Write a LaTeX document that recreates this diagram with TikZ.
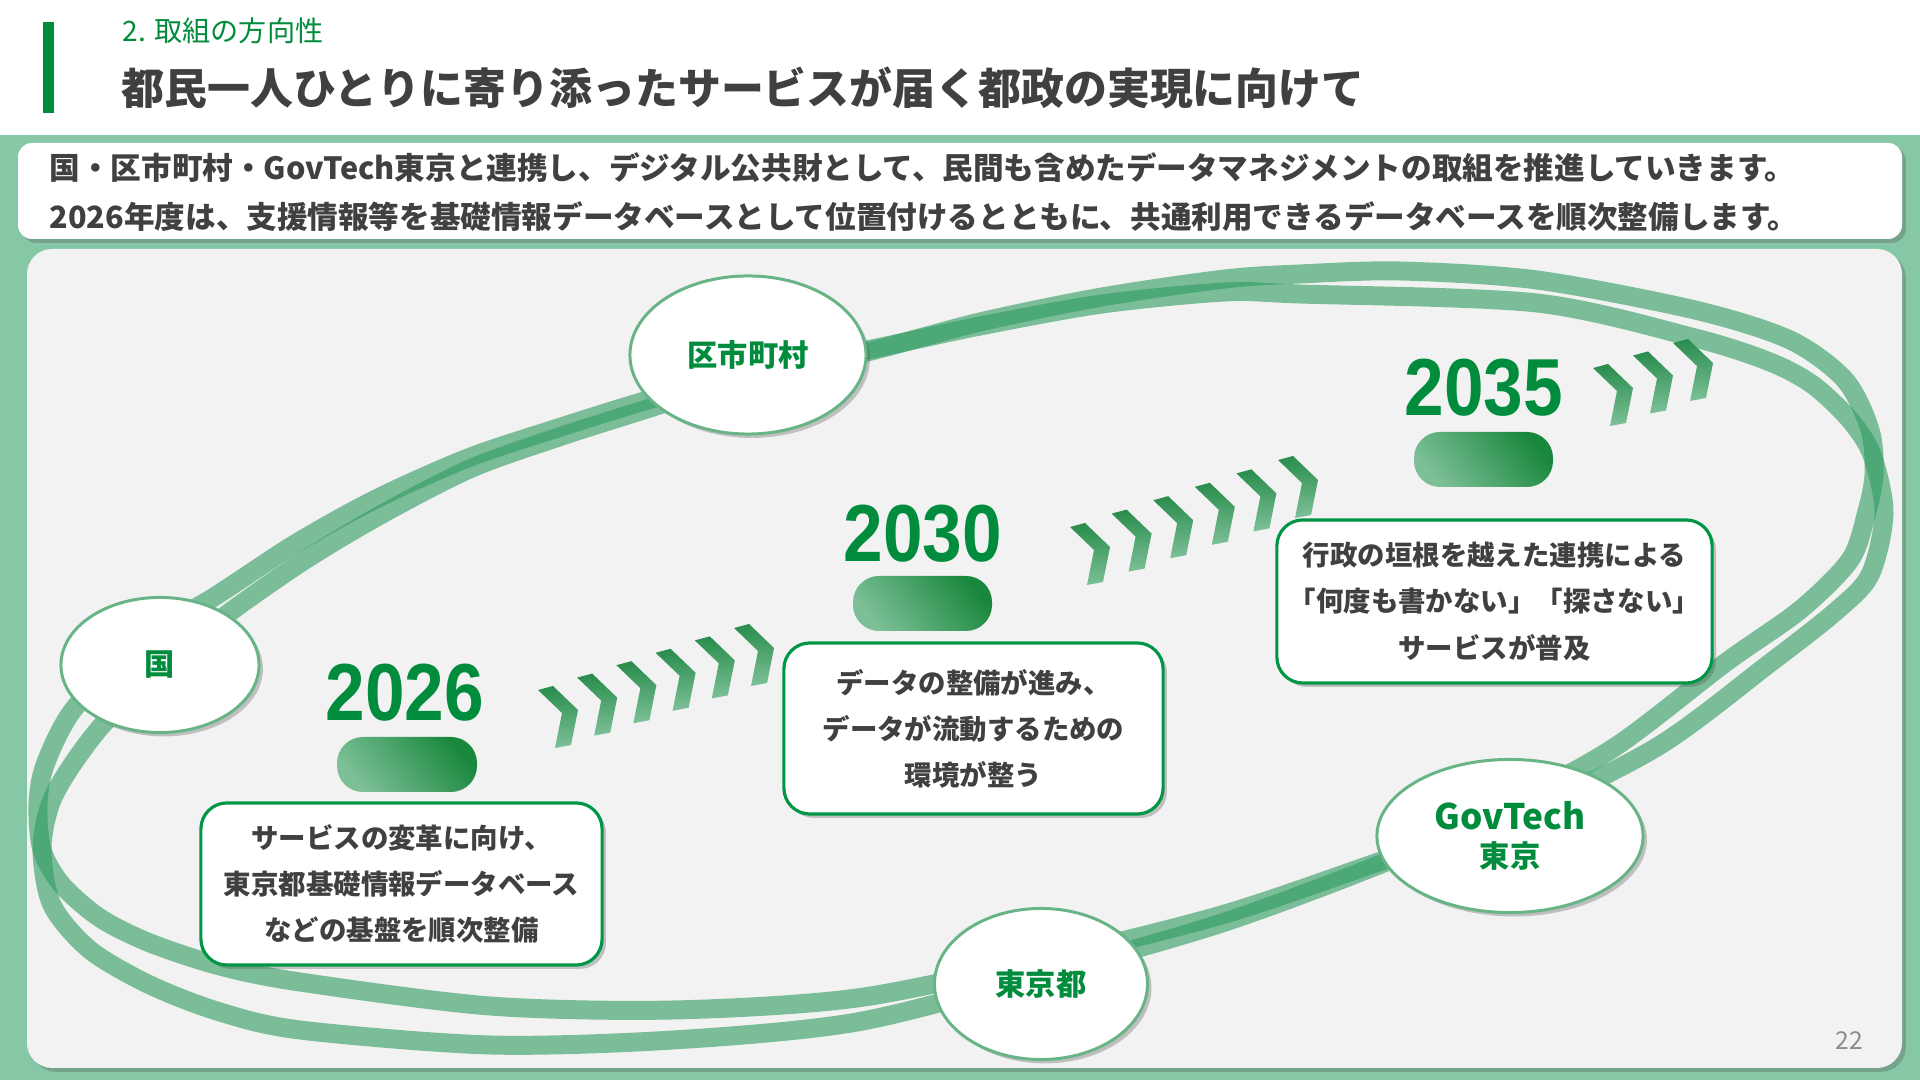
\documentclass[tikz,border=0pt]{standalone}
\usepackage{fontspec}
\setmainfont{Noto Sans CJK JP}
\newfontfamily\yearfont[FakeStretch=0.88]{Liberation Sans}
\usetikzlibrary{shapes.geometric,shadows}
\definecolor{mint}{RGB}{134,200,165}
\definecolor{panel}{RGB}{242,242,242}
\definecolor{dkgreen}{RGB}{0,140,60}
\definecolor{boxgreen}{RGB}{0,150,70}
\definecolor{nodegreen}{RGB}{105,180,135}
\definecolor{txtgray}{RGB}{64,64,64}
\definecolor{bandc}{RGB}{45,155,95}
\definecolor{chevdk}{RGB}{40,140,75}
\definecolor{chevlt}{RGB}{125,192,152}
\definecolor{pilldk}{RGB}{25,135,60}
\definecolor{pilllt}{RGB}{125,192,152}
\tikzset{
  shadowed/.style={drop shadow={shadow xshift=1.1pt, shadow yshift=-1.1pt, opacity=0.3, fill=black!70}},
  band/.style={draw=bandc, line width=5.4pt, draw opacity=0.6, line join=round},
  actor/.style={ellipse, draw=nodegreen, line width=0.85pt, fill=white, shadowed, inner sep=0pt,
    text=dkgreen, font=\fontsize{8.6pt}{11pt}\selectfont\bfseries, align=center},
  stagebox/.style={rectangle, rounded corners=0.26cm, draw=boxgreen, line width=0.9pt, fill=white, shadowed,
    inner sep=0pt, text=txtgray, font=\fontsize{7.8pt}{13.1pt}\selectfont\bfseries, align=center},
  yearlbl/.style={anchor=base, inner sep=0pt, text=dkgreen, font=\fontsize{23pt}{24pt}\yearfont\bfseries},
  pill/.style={rounded corners=0.26cm, top color=pilldk, bottom color=pilllt, shading angle=-50},
  chev/.pic={\shade[top color=chevdk, bottom color=chevlt] (0,4)--(15,0)--(40,24)--(33,59)--(17,62)--(24,27)--cycle;}
}
\begin{document}
\begin{tikzpicture}[x=0.01cm,y=-0.01cm]
\useasboundingbox (0,0) rectangle (1920,1080);
\fill[white] (0,0) rectangle (1920,1080);
\fill[mint] (0,135) rectangle (1920,1080);
% heading
\fill[dkgreen] (43,22) rectangle (54,113);
\node[anchor=west, inner sep=0pt, text=dkgreen, font=\fontsize{8pt}{9pt}\selectfont] (sub) at (122,31) {2. 取組の方向性};
\node[anchor=west, inner sep=0pt, text=txtgray, font=\fontsize{12.2pt}{14pt}\selectfont\bfseries] (title) at (121,88) {都民一人ひとりに寄り添ったサービスが届く都政の実現に向けて};
% intro box
\path[fill=white, rounded corners=0.14cm, shadowed] (18,143) rectangle (1902,239);
\node[anchor=west, inner sep=0pt, text=txtgray, font=\fontsize{8.7pt}{10pt}\selectfont\bfseries] (intro1) at (49,168) {国・区市町村・GovTech東京と連携し、デジタル公共財として、民間も含めたデータマネジメントの取組を推進していきます。};
\node[anchor=west, inner sep=0pt, text=txtgray, font=\fontsize{8.7pt}{10pt}\selectfont\bfseries] (intro2) at (49,217) {2026年度は、支援情報等を基礎情報データベースとして位置付けるとともに、共通利用できるデータベースを順次整備します。};
% panel
\path[fill=panel, rounded corners=0.25cm, shadowed] (27,249) rectangle (1902,1068);
% ring bands
\draw[band] plot[smooth cycle] coordinates {
 (650,408) (748,377) (867,352) (980,322) (1102,297) (1225,279) (1300,274) (1400,271)
 (1537,280) (1695,310) (1790,340) (1845,380) (1870,430) (1874,475) (1866,515) (1850,560)
 (1800,610) (1725,663) (1615,747) (1509,805) (1396,858) (1225,922) (1041,975) (857,1022)
 (673,1040) (490,1045) (300,1030) (220,1012) (150,985) (90,950) (52,905) (42,850)
 (50,805) (70,768) (105,722) (165,665) (226,615) (305,560) (384,513) (472,468) (562,436)};
\draw[band] plot[smooth cycle] coordinates {
 (648,400) (748,373) (867,350) (980,326) (1102,304) (1225,292) (1300,294) (1537,303)
 (1695,338) (1770,362) (1813,385) (1850,420) (1872,455) (1884,513) (1870,575) (1835,612)
 (1770,663) (1657,747) (1515,817) (1396,856) (1225,914) (1041,960) (857,998) (673,1010)
 (490,1006) (300,982) (220,966) (150,943) (100,918) (62,885) (42,850) (38,805)
 (45,765) (73,710) (135,645) (214,597) (295,544) (376,499) (468,458) (558,428)};
% chevrons
\foreach \i in {0,...,5} \pic at ({538+39.2*\i},{686-12.4*\i}) {chev};
\foreach \i in {0,...,5} \pic at ({1070+41.6*\i},{523-13.4*\i}) {chev};
\foreach \i in {0,...,2} \pic at ({1593+40*\i},{364-12.5*\i}) {chev};
% pills
\shade[pill] (337,737) rectangle (477,792);
\shade[pill] (853,576) rectangle (992,631);
\shade[pill] (1414,432) rectangle (1553,487);
% years
\node[yearlbl] (y26) at (405,721) {2026};
\node[yearlbl] (y30) at (923,562) {2030};
\node[yearlbl] (y35) at (1484,416) {2035};
% actors
\node[actor, minimum width=1.98cm, minimum height=1.35cm] (kuni) at (160,665) {国};
\node[actor, minimum width=2.36cm, minimum height=1.58cm] (kushi) at (748,355) {区市町村};
\node[actor, minimum width=2.66cm, minimum height=1.53cm] (gov) at (1510,836) {\fontsize{10pt}{11pt}\selectfont GovTech\\東京};
\node[actor, minimum width=2.13cm, minimum height=1.51cm] (tokyo) at (1041,984) {東京都};
% stage boxes
\node[stagebox, minimum width=4.01cm, minimum height=1.62cm] (b26) at (401.5,884) {サービスの変革に向け、\\東京都基礎情報データベース\\などの基盤を順次整備};
\node[stagebox, minimum width=3.79cm, minimum height=1.71cm] (b30) at (973.5,728.5) {データの整備が進み、\\データが流動するための\\環境が整う};
\node[stagebox, minimum width=4.35cm, minimum height=1.63cm] (b35) at (1494.5,601.5) {行政の垣根を越えた連携による\\「何度も書かない」「探さない」\\サービスが普及};
% page number
\node[inner sep=0pt, text=black!45, font=\fontsize{7pt}{8pt}\selectfont] (pg) at (1849,1041) {22};
\end{tikzpicture}
\end{document}
